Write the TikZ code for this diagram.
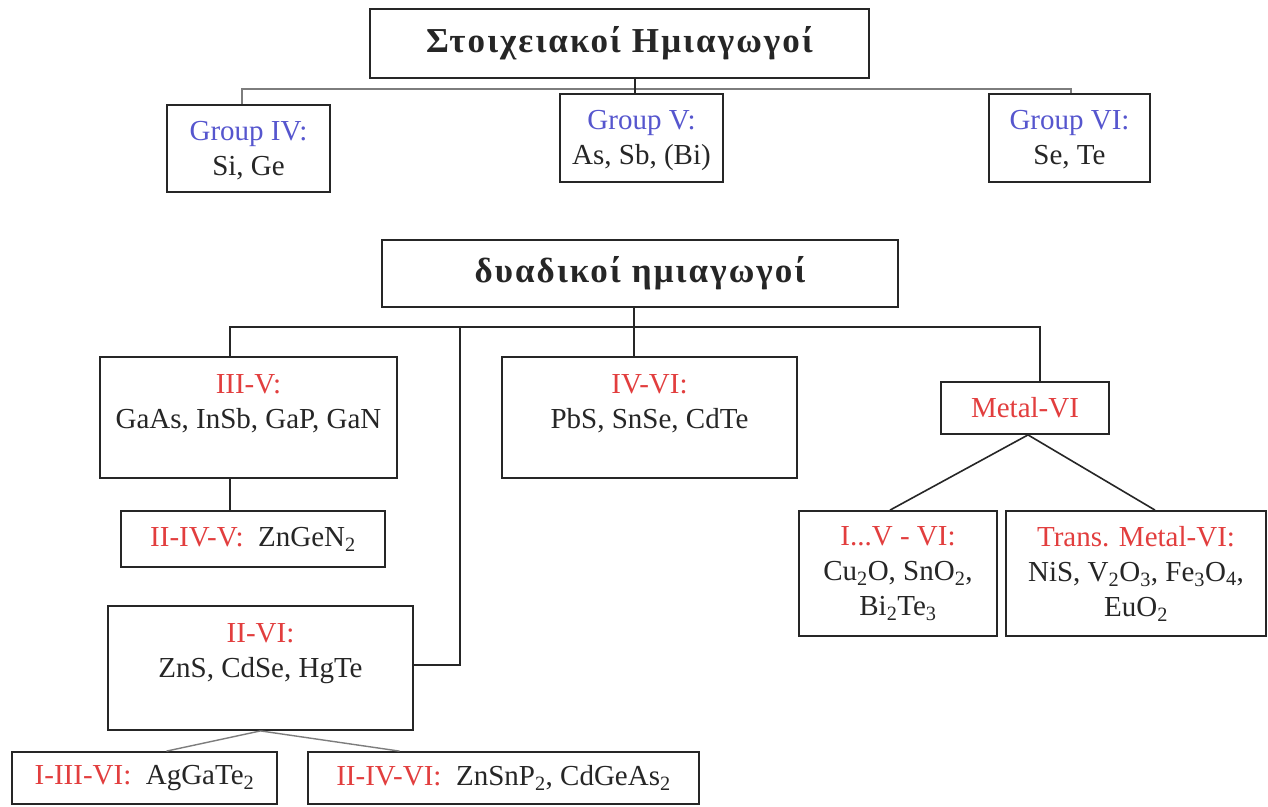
\documentclass[tikz,border=0pt]{standalone}
\usepackage{fontspec}
\setmainfont{Liberation Serif}
\newfontfamily\headfont[LetterSpace=6]{Liberation Serif}
\usetikzlibrary{fit,calc}

\definecolor{lblred}{RGB}{226,62,62}
\definecolor{lblblue}{RGB}{86,86,206}
\definecolor{ink}{RGB}{38,38,38}
\definecolor{busgray}{RGB}{125,125,125}

\newcommand{\hl}[1]{\textcolor{lblred}{#1}}
\newcommand{\gl}[1]{\textcolor{lblblue}{#1}}
\newcommand{\sub}[1]{\textsubscript{#1}}

\begin{document}
\begin{tikzpicture}[x=1pt,y=-1pt,
  box/.style={draw=ink, line width=1.8pt, inner sep=0pt},
  wire/.style={draw=ink, line width=1.6pt},
  lightwire/.style={draw=busgray, line width=1.4pt},
  txt/.style={font=\fontsize{29}{35}\selectfont, text=ink, align=center, inner sep=0pt},
  title/.style={font=\headfont\fontsize{35}{40}\selectfont\bfseries, text=ink, inner sep=0pt}
]
\useasboundingbox[fill=white] (0,0) rectangle (1268,806);

% ---- elemental semiconductors ----
\node[box, fit={(370,9) (869,78)}] (elem) {};
\node[title] (elemT) at (elem.center) {Στοιχειακοί Ημιαγωγοί};

\node[box, fit={(167,105) (330,192)}] (gIV) {};
\node[txt] (gIVt) at ($(gIV.center)+(0,2)$) {\gl{Group IV:}\\Si, Ge};
\node[box, fit={(560,94) (723,182)}] (gV) {};
\node[txt] (gVt) at ($(gV.center)+(0,2)$) {\gl{Group V:}\\As, Sb, (Bi)};
\node[box, fit={(989,94) (1150,182)}] (gVI) {};
\node[txt] (gVIt) at ($(gVI.center)+(0,2)$) {\gl{Group VI:}\\Se, Te};

\coordinate (b1L) at (242,89);
\coordinate (b1M) at (635,89);
\coordinate (b1R) at (1071,89);
\draw[lightwire] (gIV.north -| b1L) -- (b1L) -- (b1R) -- (gVI.north -| b1R);
\draw[wire] (elem.south -| b1M) -- (gV.north -| b1M);

% ---- binary semiconductors ----
\node[box, fit={(382,240) (898,307)}] (bin) {};
\node[title] (binT) at (bin.center) {δυαδικοί ημιαγωγοί};

\node[box, fit={(100,357) (397,478)}] (iiiv) {};
\node[txt] (iiivt) at ($(iiiv.north)+(0,48)$) {\hl{III-V:}\\GaAs, InSb, GaP, GaN};
\node[box, fit={(121,511) (385,567)}] (iiivv) {};
\node[txt] (iiivvt) at (iiivv.center) {\hl{II-IV-V:}\enspace ZnGeN\sub{2}};

\node[box, fit={(502,357) (797,478)}] (ivvi) {};
\node[txt] (ivvit) at ($(ivvi.north)+(0,48)$) {\hl{IV-VI:}\\PbS, SnSe, CdTe};

\node[box, fit={(941,382) (1109,434)}] (metal) {};
\node[txt] (metalt) at (metal.center) {\hl{Metal-VI}};
\node[box, fit={(799,511) (997,636)}] (ivvia) {};
\node[txt] (ivviat) at (ivvia.center) {\hl{I...V - VI:}\\Cu\sub{2}O, SnO\sub{2},\\Bi\sub{2}Te\sub{3}};
\node[box, fit={(1006,511) (1266,636)}] (trans) {};
\node[txt] (transt) at (trans.center) {\hl{Trans. Metal-VI:}\\NiS, V\sub{2}O\sub{3}, Fe\sub{3}O\sub{4},\\EuO\sub{2}};

\node[box, fit={(108,606) (413,730)}] (iivi) {};
\node[txt] (iivit) at ($(iivi.north)+(0,49)$) {\hl{II-VI:}\\ZnS, CdSe, HgTe};
\node[box, fit={(12,752) (277,804)}] (iiivi) {};
\node[txt] (iiivit) at (iiivi.center) {\hl{I-III-VI:}\enspace AgGaTe\sub{2}};
\node[box, fit={(308,752) (699,804)}] (iiivvi) {};
\node[txt] (iiivvit) at (iiivvi.center) {\hl{II-IV-VI:}\enspace ZnSnP\sub{2}, CdGeAs\sub{2}};

\coordinate (b2L) at (230,327);
\coordinate (b2S) at (460,327);
\coordinate (b2M) at (634,327);
\coordinate (b2R) at (1040,327);
\coordinate (kink) at (460,665);
\draw[wire] (iiiv.north -| b2L) -- (b2L) -- (b2R) -- (metal.north -| b2R);
\draw[wire] (bin.south -| b2M) -- (ivvi.north -| b2M);
\draw[wire] (b2S) -- (kink) -- (kink -| iivi.east);
\draw[wire] (iiiv.south -| b2L) -- (iiivv.north -| b2L);

\draw[wire] ($(metal.south)+(3,0)$) -- ($(ivvia.north)+(-8,0)$);
\draw[wire] ($(metal.south)+(3,0)$) -- ($(trans.north)+(19,0)$);
\draw[lightwire] (iivi.south) -- ($(iiivi.north)+(22,0)$);
\draw[lightwire] (iivi.south) -- ($(iiivvi.north)+(-104,0)$);
\end{tikzpicture}
\end{document}
